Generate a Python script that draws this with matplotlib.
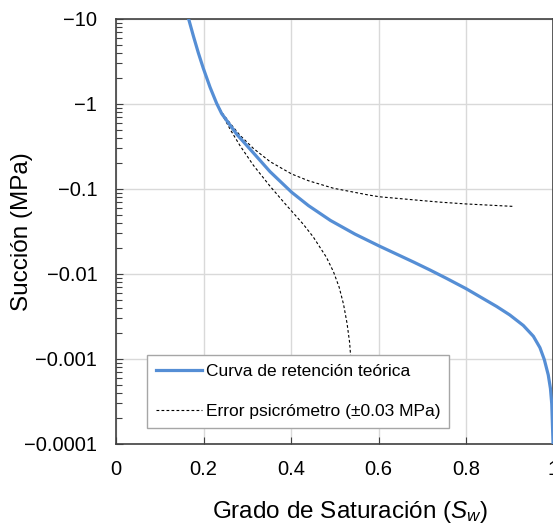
import numpy as np
import matplotlib.pyplot as plt
from matplotlib.ticker import FixedLocator, FixedFormatter, LogLocator, NullFormatter

plt.rcParams['font.family'] = ['Liberation Sans', 'DejaVu Sans']
plt.rcParams['mathtext.fontset'] = 'custom'
plt.rcParams['mathtext.rm'] = 'Liberation Sans'
plt.rcParams['mathtext.it'] = 'Liberation Sans:italic'

# Curva de retención teórica (Sw, succión en MPa)
sw_teorica = [0.166, 0.177, 0.188, 0.1995, 0.215, 0.230, 0.2416, 0.276, 0.314, 0.352,
              0.4016, 0.440, 0.490, 0.546, 0.602, 0.680, 0.718, 0.756, 0.800, 0.870,
              0.900, 0.931, 0.954, 0.969, 0.979, 0.988, 0.993, 0.996, 0.999]
psi_teorica = [10.0, 6.26, 4.02, 2.63, 1.57, 1.017, 0.769, 0.44, 0.266, 0.160,
               0.0914, 0.0637, 0.0427, 0.0295, 0.0213, 0.01383, 0.01112, 0.00885, 0.00673, 0.00415,
               0.0033, 0.00248, 0.00185, 0.00136, 0.000984, 0.00065, 0.00045, 0.000297, 0.0001]

# Curvas con el error del psicrómetro (+/- 0.03 MPa)
sw_error_sup = [0.166, 0.177, 0.188, 0.1995, 0.215, 0.230, 0.2416, 0.260, 0.283, 0.314,
                0.352, 0.4016, 0.440, 0.497, 0.577, 0.602, 0.700, 0.741, 0.800, 0.906]
psi_error_sup = [10.0, 6.26, 4.02, 2.63, 1.57, 1.017, 0.80, 0.60, 0.43, 0.30,
                 0.21, 0.15, 0.125, 0.102, 0.085, 0.081, 0.073, 0.070, 0.0667, 0.0625]

sw_error_inf = [0.166, 0.177, 0.188, 0.1995, 0.215, 0.230, 0.2416, 0.262, 0.283, 0.314,
                0.352, 0.386, 0.428, 0.451, 0.481, 0.497, 0.510, 0.520, 0.528, 0.534,
                0.538, 0.540]
psi_error_inf = [10.0, 6.26, 4.02, 2.63, 1.57, 1.017, 0.769, 0.492, 0.326, 0.19,
                 0.108, 0.0675, 0.0385, 0.0272, 0.0157, 0.01064, 0.0070, 0.00442, 0.00264, 0.00156,
                 0.00082, 0.00041]

x_ticks = [0, 0.2, 0.4, 0.6, 0.8, 1.0]
x_labels = ['0', '0.2', '0.4', '0.6', '0.8', '1']
y_ticks = [10, 1, 0.1, 0.01, 0.001, 0.0001]
y_labels = ['\u221210', '\u22121', '\u22120.1', '\u22120.01', '\u22120.001', '\u22120.0001']

fig = plt.figure(figsize=(5.53, 5.26), dpi=100)
ax = fig.add_axes([0.2098, 0.1559, 0.7911, 0.808])

ax.plot(sw_teorica, psi_teorica, color='#558ED5', linewidth=2.3,
        label='Curva de retención teórica', zorder=3, solid_joinstyle='round')
ax.plot(sw_error_sup, psi_error_sup, color='black', linestyle=(0, (2.5, 2)),
        linewidth=0.8, label='Error psicrómetro (\u00b10.03 MPa)', zorder=2)
ax.plot(sw_error_inf, psi_error_inf, color='black', linestyle=(0, (2.5, 2)),
        linewidth=0.8, zorder=2)

ax.set_yscale('log')
ax.set_xlim(0, 1)
ax.set_ylim(1e-4, 10)

ax.xaxis.set_major_locator(FixedLocator(x_ticks))
ax.xaxis.set_major_formatter(FixedFormatter(x_labels))
ax.yaxis.set_major_locator(FixedLocator(y_ticks))
ax.yaxis.set_major_formatter(FixedFormatter(y_labels))
ax.yaxis.set_minor_locator(LogLocator(base=10, subs=np.arange(2, 10)))
ax.yaxis.set_minor_formatter(NullFormatter())

ax.grid(True, which='major', color='#d9d9d9', linewidth=1.0, zorder=0)
ax.set_axisbelow(True)

ax.tick_params(axis='both', which='major', direction='in', length=5, width=0.8,
               color='#404040', labelsize=14.5)
ax.tick_params(axis='x', which='major', pad=11.5)
ax.tick_params(axis='y', which='major', pad=13.5)
ax.tick_params(axis='y', which='minor', direction='in', length=4.5, width=0.8,
               color='#404040')
ax.tick_params(axis='x', which='minor', bottom=False)

for side in ['left', 'bottom', 'top', 'right']:
    ax.spines[side].set_color('#404040')
    ax.spines[side].set_linewidth(1.2)

ax.set_xlabel(r'Grado de Saturación ($\mathit{S}_{w}$)', fontsize=17.5)
ax.set_ylabel('Succión (MPa)', fontsize=17.5)
ax.xaxis.set_label_coords(0.536, -0.13)
ax.yaxis.set_label_coords(-0.19, 0.5)

leg = ax.legend(loc='lower left', bbox_to_anchor=(0.071, 0.0376), borderaxespad=0,
                fontsize=12.5, frameon=True, fancybox=False, framealpha=1,
                edgecolor='#a6a6a6', handlelength=2.65, handletextpad=0.25,
                labelspacing=1.45, borderpad=0.5)
leg.get_frame().set_linewidth(1.0)
leg.set_zorder(5)

fig.savefig('out.png', dpi=100)
